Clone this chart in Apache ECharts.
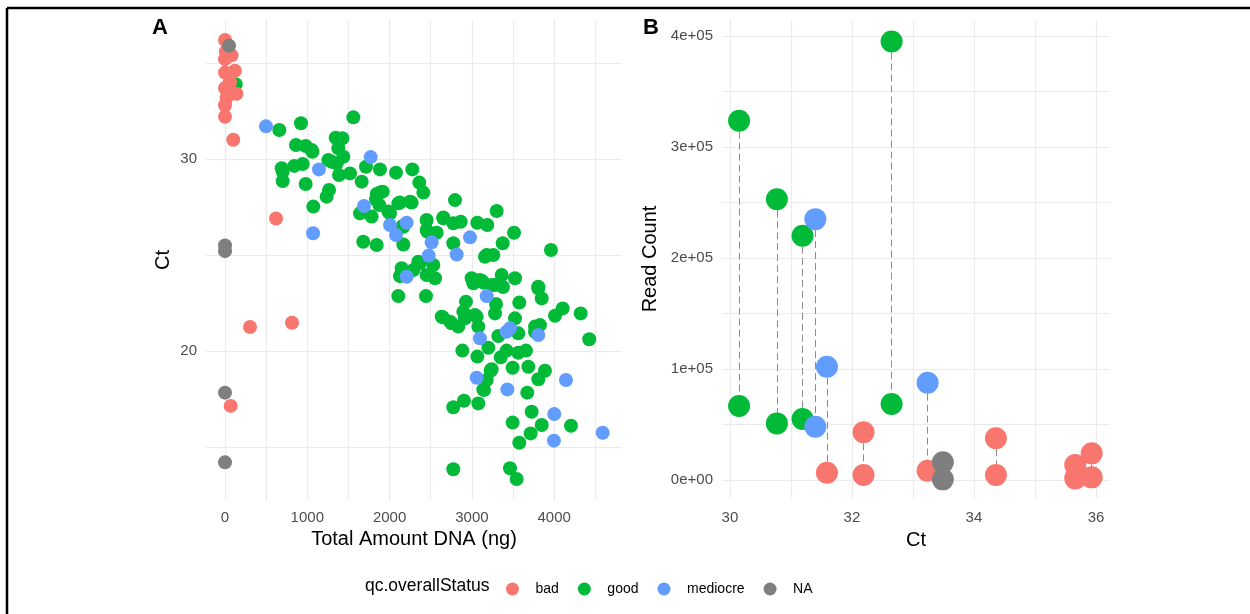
<!DOCTYPE html>
<html>
<head>
<meta charset="utf-8">
<script src="https://cdn.jsdelivr.net/npm/echarts@6.0.0/dist/echarts.min.js"></script>
<style>
  html, body { margin: 0; padding: 0; background: #fff; }
  #main { width: 1250px; height: 614px; }
</style>
</head>
<body>
<div id="main"></div>
<script>
// panel A : Total Amount DNA (ng) vs Ct, one array per qc status
var goodA = [
  [130,33.9],
  [1559,32.17],[923,31.86],[660,31.51],[1345,31.11],[1426,31.08],[863,30.73],[980,30.68],[1062,30.38],[1377,30.56],
  [1438,30.12],[1296,29.86],[1357,29.77],[944,29.74],[842,29.64],[701,29.34],[701,28.85],[980,28.7],[1385,29.17],[1519,29.25],
  [1661,28.82],[1713,29.6],[1883,29.46],[2078,29.29],[2276,29.46],[2361,28.77],[2410,28.25],[1264,28.39],[1235,28.04],[1073,27.52],
  [1883,28.25],[1835,27.9],[2126,27.73],[2268,27.73],[1985,27.26],[1782,27.0],[1640,27.17],[2795,27.86],[2653,26.91],[2450,26.82],
  [2450,26.30],[2572,26.16],[2774,26.65],[2864,26.73],[3066,26.68],[3187,26.56],[3301,27.29],[3512,26.16],[3374,25.61],[3180,25.0],
  [3260,25.0],[3961,25.26],[2774,25.61],[2167,26.47],[2167,25.55],[1680,25.69],[1843,25.52],[2349,24.65],[2531,24.48],[2126,23.9],
  [2288,24.22],[2450,23.96],[2552,23.79],[2997,23.79],[3139,23.56],[3362,23.96],[3524,23.79],[3807,23.35],[3281,23.44],
  [2106,22.86],[2442,22.86],[3017,23.53],[3123,23.65],[3244,23.44],[3378,23.33],[3807,23.27],[3848,22.74],[3576,22.52],[3293,22.45],
  [3281,21.96],[2928,22.57],[2896,22.05],[3038,21.88],[2645,21.76],[2734,21.53],[2835,21.27],[3078,21.27],[3524,21.7],[3321,20.78],
  [3564,20.92],[3767,21.0],[3827,21.35],[4010,21.84],[4103,22.22],[4322,21.96],[4426,20.61],[2884,20.02],[3066,19.71],[3200,20.17],
  [3350,19.67],[3422,20.02],[3564,19.91],[3657,20.02],[3495,19.13],[3686,19.18],[3888,18.97],[3807,18.53],[3228,18.97],[3180,18.49],
  [3139,18.0],[3673,17.83],[2904,17.41],[3078,17.27],[2774,17.07],[3726,16.84],[3848,16.15],[3714,15.71],[3495,16.27],[4204,16.11],
  [3576,15.22],[2774,13.84],[3463,13.89],[3544,13.33],
  [2916,21.7],[2633,21.79],[2754,21.44],[3058,21.79],[3767,21.27],[3240,19.05],[3147,17.97],[1843,28.18],[1916,28.3],[1875,27.6],
  [2005,27.17],[2106,27.69],[2248,27.78],[2159,26.51],[2459,26.21],[2653,26.96],[3159,24.91],[2147,24.31],[2207,24.05],[2369,24.57],
  [3098,23.7],[1256,29.95],[1053,30.47],[689,29.52]
];
var mediocreA = [
  [498,31.7],[1770,30.1],[1142,29.46],[1689,27.55],[1070,26.13],[2005,26.56],[2207,26.68],[2078,26.04],[2511,25.66],[2475,24.97],
  [2977,25.92],[2815,25.03],[2207,23.87],[3180,22.86],[3463,21.18],[3422,21.0],[3098,20.66],[3807,20.83],[3058,18.61],[3431,18.0],
  [4143,18.49],[4001,16.72],[3997,15.33],[4589,15.74]
];
var badA = [
  [0,36.2],[10,35.6],[0,35.2],[80,35.4],[120,34.6],[0,34.5],[60,34.0],[0,33.7],[140,33.4],[20,33.2],
  [0,32.8],[0,32.2],[100,31.0],[620,26.9],[304,21.25],[814,21.47],[69,17.14]
];
var naA = [[49,35.9],[0,25.5],[0,25.2],[0,17.83],[0,14.2]];

// panel B : Ct vs Read Count, two read counts per sample joined by a dashed line
var ctB         = [30.15, 30.77, 31.19, 31.40, 31.59, 32.19, 32.65, 33.24, 33.49, 34.36, 35.66, 35.93];
var readHighB   = [323700, 253000, 220000, 235000, 102000, 43000, 395000, 87700, 16000, 37600, 13500, 24000];
var statusHighB = ['good','good','good','mediocre','mediocre','bad','good','mediocre','NA','bad','bad','bad'];
var readLowB    = [66700, 51000, 55000, 48000, 6600, 4500, 68500, 8400, 600, 4500, 1500, 2400];
var statusLowB  = ['good','good','good','mediocre','bad','bad','good','bad','NA','bad','bad','bad'];

var statusNames = ['bad', 'good', 'mediocre', 'NA'];
var colors = { bad: '#F8766D', good: '#00BA38', mediocre: '#619CFF', NA: '#7F7F7F' };

var ticksAx = [0, 500, 1000, 1500, 2000, 2500, 3000, 3500, 4000, 4500];
var labelsAx = [0, 1000, 2000, 3000, 4000];
var ticksAy = [15, 20, 25, 30, 35];
var labelsAy = [20, 30];
var ticksBx = [30, 31, 32, 33, 34, 35, 36];
var labelsBx = [30, 32, 34, 36];
var ticksBy = [0, 50000, 100000, 150000, 200000, 250000, 300000, 350000, 400000];
var labelsBy = [0, 100000, 200000, 300000, 400000];

var FONT = 'Liberation Sans, Arial, sans-serif';
var myChart = echarts.init(document.getElementById('main'), null, { renderer: 'canvas' });

function sciLabel(v) {
    if (v === 0) return '0e+00';
    return (v / 100000) + 'e+05';
}

function makeAxis(idx, min, max, ticks, labels, fmt, name, gap, margin) {
    return {
        type: 'value', gridIndex: idx, min: min, max: max,
        name: name, nameLocation: 'middle', nameGap: gap,
        nameTextStyle: { color: '#000', fontSize: 20, fontFamily: FONT },
        axisLine: { show: false },
        axisTick: { show: false, customValues: ticks },
        axisLabel: { customValues: labels, color: '#4D4D4D', fontSize: 15, fontFamily: FONT, margin: margin, formatter: fmt },
        splitLine: { show: true, lineStyle: { color: '#EBEBEB', width: 1.2 } }
    };
}

// panel B points split by status
var bPoints = { bad: [], good: [], mediocre: [], NA: [] };
var bLines = [];
for (var i = 0; i < ctB.length; i++) {
    bPoints[statusHighB[i]].push([ctB[i], readHighB[i]]);
    bPoints[statusLowB[i]].push([ctB[i], readLowB[i]]);
    bLines.push({ coords: [[ctB[i], readHighB[i]], [ctB[i], readLowB[i]]] });
}

var aData = { bad: badA, good: goodA, mediocre: mediocreA, NA: naA };
var drawOrder = ['good', 'mediocre', 'bad', 'NA'];
var series = [];

drawOrder.forEach(function (s) {
    series.push({
        name: s, type: 'scatter', xAxisIndex: 0, yAxisIndex: 0,
        symbolSize: 14, itemStyle: { color: colors[s], opacity: 1 },
        data: aData[s], z: 3
    });
});

series.push({
    type: 'lines', coordinateSystem: 'cartesian2d', xAxisIndex: 1, yAxisIndex: 1,
    polyline: false, silent: true, z: 2,
    lineStyle: { color: '#8C8C8C', width: 1, type: [7, 4], opacity: 1 },
    data: bLines
});

drawOrder.forEach(function (s) {
    series.push({
        name: s, type: 'scatter', xAxisIndex: 1, yAxisIndex: 1,
        symbolSize: 22, itemStyle: { color: colors[s], opacity: 1 },
        data: bPoints[s], z: 3
    });
});

var num = function (v) { return String(v); };

myChart.setOption({
    animation: false,
    backgroundColor: '#fff',
    grid: [
        { left: 206, top: 20, width: 416, height: 480 },
        { left: 722, top: 20, width: 388, height: 478 }
    ],
    xAxis: [
        makeAxis(0, -231, 4824, ticksAx, labelsAx, num, 'Total Amount DNA (ng)', 28, 10),
        makeAxis(1, 29.87, 36.23, ticksBx, labelsBx, num, 'Ct', 32, 12)
    ],
    yAxis: [
        makeAxis(0, 12.24, 37.24, ticksAy, labelsAy, num, 'Ct', 33, 9),
        makeAxis(1, -16200, 414400, ticksBy, labelsBy, sciLabel, 'Read Count', 62, 9)
    ],
    legend: {
        data: statusNames,
        left: 501, top: 577,
        icon: 'circle',
        itemWidth: 36, itemHeight: 13, itemGap: 19,
        textStyle: { color: '#000', fontSize: 14, fontFamily: FONT }
    },
    graphic: [
        { type: 'text', left: 365, top: 577, style: { text: 'qc.overallStatus', fill: '#000', font: '17.5px ' + FONT } },
        { type: 'text', left: 152, top: 17, style: { text: 'A', fill: '#000', font: 'bold 22px ' + FONT } },
        { type: 'text', left: 643, top: 17, style: { text: 'B', fill: '#000', font: 'bold 22px ' + FONT } },
        { type: 'line', shape: { x1: 7, y1: 8, x2: 1250, y2: 8 }, style: { stroke: '#000', lineWidth: 2.5 } },
        { type: 'line', shape: { x1: 7, y1: 8, x2: 7, y2: 614 }, style: { stroke: '#000', lineWidth: 2.5 } }
    ],
    series: series
});
</script>
</body>
</html>
